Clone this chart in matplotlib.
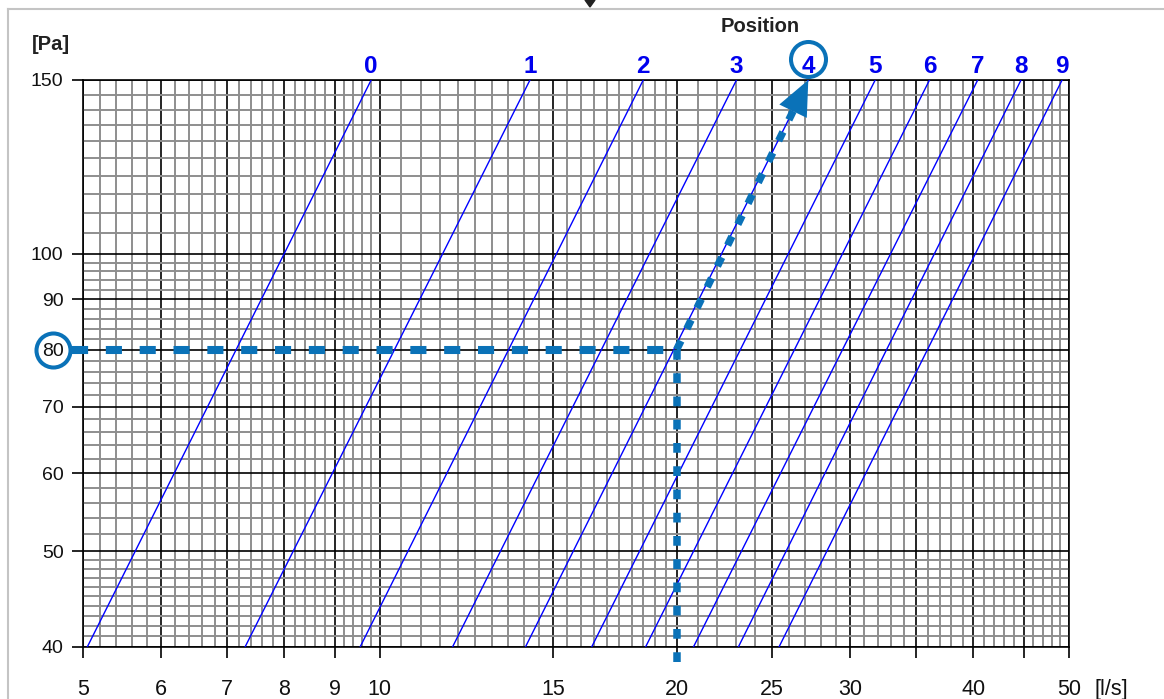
import numpy as np
import matplotlib
matplotlib.use('Agg')
import matplotlib.pyplot as plt
from matplotlib import transforms
from matplotlib.lines import Line2D
from matplotlib.patches import Polygon
from matplotlib.ticker import NullFormatter

plt.rcParams['font.family'] = ['Liberation Sans', 'DejaVu Sans']

# airflow [l/s] where each damper position line meets 40 Pa and 150 Pa
positions = ['0', '1', '2', '3', '4', '5', '6', '7', '8', '9']
flow_at_40 = [5.05, 7.3, 9.55, 11.85, 14.05, 16.4, 18.6, 20.8, 23.1, 25.4]
flow_at_150 = [9.8, 14.2, 18.5, 23.0, 27.2, 31.8, 36.1, 40.4, 44.7, 49.2]
pressure_ends = [40, 150]

x_ticks = [5, 6, 7, 8, 9, 10, 15, 20, 25, 30, 35, 40, 45, 50]
x_labels = ['5', '6', '7', '8', '9', '10', '15', '20', '25', '30', '', '40', '', '50']
y_ticks = [40, 50, 60, 70, 80, 90, 100, 150]

# worked example: 20 l/s at 80 Pa -> position 4
ex_flow = 20
ex_pressure = 80
ex_position = 4

ex_color = '#0a72b8'
line_color = '#0000ff'

fig = plt.figure(figsize=(11.64, 6.99), dpi=100)
ax = fig.add_axes([83 / 1164, 52 / 699, 986 / 1164, 567 / 699])
ax.set_xscale('log')
ax.set_yscale('log')
ax.set_xlim(5, 50)
ax.set_ylim(40, 150)

# graph-paper grid: fine gray lines, black at the labelled values
x_minor = np.concatenate([np.arange(5, 10, 0.2), np.arange(10, 20, 0.5), np.arange(20, 50, 1.0)])
y_minor = np.concatenate([np.arange(40, 50, 1.0), np.arange(50, 100, 2.0), np.arange(100, 150, 5.0)])
x_minor = [v for v in x_minor if not np.any(np.isclose(v, x_ticks))]
y_minor = [v for v in y_minor if not np.any(np.isclose(v, y_ticks))]

ax.set_xticks(x_ticks, x_labels)
ax.set_yticks(y_ticks, [str(v) for v in y_ticks])
ax.set_xticks(x_minor, minor=True)
ax.set_yticks(y_minor, minor=True)
ax.xaxis.set_minor_formatter(NullFormatter())
ax.yaxis.set_minor_formatter(NullFormatter())

ax.grid(which='minor', color='#8e8e8e', lw=1.4)
ax.grid(which='major', color='black', lw=1.2)
ax.set_axisbelow(True)
ax.tick_params(which='minor', length=0)
ax.tick_params(which='major', length=8, width=1.2, labelcolor='#111111')
ax.tick_params(axis='x', pad=15, labelsize=15.5)
ax.tick_params(axis='y', pad=6, labelsize=14)
for s in ax.spines.values():
    s.set_color('black')
    s.set_linewidth(1.2)

# position lines
for q0, q1 in zip(flow_at_40, flow_at_150):
    ax.plot([q0, q1], pressure_ends, color=line_color, lw=1.0, zorder=3)

for name, q in zip(positions, flow_at_150):
    ax.annotate(name, (q, 150), xytext=(0, 5), textcoords='offset points',
                ha='center', va='baseline', fontsize=17.5, fontweight='bold',
                color='#0000ee', annotation_clip=False)

# worked example
ax.plot([4.87, ex_flow], [ex_pressure, ex_pressure], color=ex_color, lw=5.8,
        dashes=(2.0, 2.2), solid_capstyle='butt', dash_capstyle='butt',
        clip_on=False, zorder=5)
ax.plot([ex_flow, ex_flow], [ex_pressure, 38], color=ex_color, lw=5.4,
        dashes=(1.3, 1.8), dash_capstyle='butt', clip_on=False, zorder=5)
ax.plot([ex_flow, flow_at_150[ex_position]], [ex_pressure, 150], color=ex_color, lw=5.4,
        dashes=(1.3, 1.8), dash_capstyle='butt', clip_on=False, zorder=5)
ax.annotate('', xy=(flow_at_150[ex_position], 150), xytext=(ex_flow, ex_pressure),
            arrowprops=dict(arrowstyle='-|>,head_length=2.5,head_width=1.1',
                            color=ex_color, lw=0, shrinkA=0, shrinkB=0),
            annotation_clip=False, zorder=6)

# rings around the read values
ring_top = transforms.offset_copy(ax.transData, fig=fig, x=0, y=21, units='dots')
ax.plot([flow_at_150[ex_position]], [150], marker='o', ms=25.2, mfc='none', mec=ex_color,
        mew=2.9, transform=ring_top, clip_on=False, zorder=6)
ring_left = transforms.blended_transform_factory(ax.transAxes, ax.transData)
ax.plot([-0.0304], [ex_pressure], marker='o', ms=24.5, mfc='none', mec=ex_color,
        mew=2.9, transform=ring_left, clip_on=False, zorder=6)

fig.text(51 / 1164, 1 - 44 / 699, '[Pa]', ha='center', va='center', fontsize=14.5, fontweight='bold', color='#222222')
fig.text(760 / 1164, 1 - 27 / 699, 'Position', ha='center', va='center', fontsize=14.5, fontweight='bold', color='#222222')
fig.text(1111 / 1164, 1 - 689 / 699, '[l/s]', ha='center', va='center', fontsize=15.5, color='#111111')

# page frame and marker at top
fig.add_artist(Line2D([8 / 1164, 1], [1 - 8.5 / 699] * 2, transform=fig.transFigure, color='#c4c4c4', lw=1.5))
fig.add_artist(Line2D([8 / 1164] * 2, [0, 1 - 8.5 / 699], transform=fig.transFigure, color='#c4c4c4', lw=1.5))
fig.add_artist(Polygon([[585 / 1164, 1], [595 / 1164, 1], [590 / 1164, 1 - 7 / 699]], closed=True,
                       transform=fig.transFigure, color='#222222'))

fig.savefig('out.png', dpi=100)
